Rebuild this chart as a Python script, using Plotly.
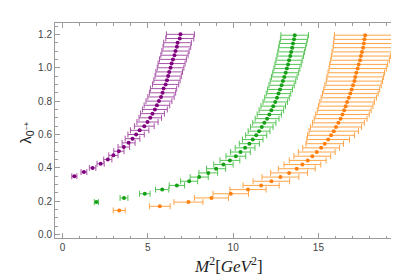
import plotly.graph_objects as go

# ---- data ----
purple_lam = [0.35, 0.375, 0.4, 0.425, 0.45, 0.475, 0.5, 0.525, 0.55, 0.575, 0.6, 0.625,
              0.65, 0.675, 0.7, 0.725, 0.75, 0.775, 0.8, 0.825, 0.85, 0.875, 0.9, 0.925,
              0.95, 0.975, 1.0, 1.025, 1.05, 1.075, 1.1, 1.125, 1.15, 1.175, 1.2]
purple_m2 = [0.69, 1.25, 1.76, 2.23, 2.65, 2.98, 3.30, 3.59, 3.87, 4.10, 4.31, 4.52,
             4.79, 4.98, 5.14, 5.27, 5.41, 5.53, 5.65, 5.77, 5.86, 5.92, 6.04, 6.12,
             6.19, 6.25, 6.33, 6.39, 6.47, 6.56, 6.62, 6.70, 6.74, 6.87, 6.91]
purple_err = [0.15, 0.17, 0.19, 0.21, 0.24, 0.27, 0.30, 0.34, 0.38, 0.43, 0.48, 0.54,
              0.58, 0.62, 0.66, 0.70, 0.73, 0.75, 0.76, 0.77, 0.77, 0.77, 0.77, 0.77,
              0.77, 0.78, 0.78, 0.79, 0.79, 0.80, 0.80, 0.81, 0.81, 0.82, 0.82]

green_lam = [0.195, 0.22, 0.245, 0.27, 0.295, 0.32, 0.345, 0.37, 0.395, 0.42, 0.445,
             0.47, 0.495, 0.52, 0.545, 0.57, 0.595, 0.62, 0.645, 0.67, 0.695, 0.72,
             0.745, 0.77, 0.795, 0.82, 0.845, 0.87, 0.895, 0.92, 0.945, 0.97, 0.995,
             1.02, 1.045, 1.07, 1.095, 1.12, 1.145, 1.17, 1.195]
green_m2 = [1.98, 3.60, 4.82, 5.84, 6.70, 7.42, 8.01, 8.54, 9.00, 9.43, 9.81,
            10.16, 10.43, 10.70, 10.95, 11.15, 11.35, 11.52, 11.68, 11.83, 11.99, 12.12,
            12.24, 12.35, 12.47, 12.57, 12.66, 12.75, 12.84, 12.92, 13.00, 13.08, 13.15,
            13.22, 13.28, 13.35, 13.40, 13.46, 13.51, 13.57, 13.61]
green_err = [0.12, 0.23, 0.31, 0.39, 0.45, 0.50, 0.53, 0.55, 0.56, 0.57, 0.58,
             0.58, 0.58, 0.58, 0.59, 0.60, 0.62, 0.64, 0.66, 0.68, 0.70, 0.71,
             0.72, 0.72, 0.72, 0.72, 0.72, 0.73, 0.74, 0.75, 0.75, 0.76, 0.76,
             0.77, 0.77, 0.78, 0.78, 0.79, 0.80, 0.80, 0.81]

orange_lam = [0.145, 0.17, 0.195, 0.22, 0.245, 0.27, 0.295, 0.32, 0.345, 0.37, 0.395,
              0.42, 0.445, 0.47, 0.495, 0.52, 0.545, 0.57, 0.595, 0.62, 0.645, 0.67,
              0.695, 0.72, 0.745, 0.77, 0.795, 0.82, 0.845, 0.87, 0.895, 0.92, 0.945,
              0.97, 0.995, 1.02, 1.045, 1.07, 1.095, 1.12, 1.145, 1.17, 1.195]
orange_m2 = [3.32, 5.70, 7.38, 8.73, 9.86, 10.87, 11.64, 12.24, 12.77, 13.28, 13.73,
             14.06, 14.37, 14.64, 14.90, 15.16, 15.37, 15.57, 15.74, 15.90, 16.03, 16.17,
             16.30, 16.41, 16.51, 16.60, 16.68, 16.78, 16.87, 16.95, 17.03, 17.11, 17.16,
             17.22, 17.30, 17.36, 17.44, 17.49, 17.55, 17.62, 17.66, 17.70, 17.74]
orange_err = [0.35, 0.61, 0.85, 1.00, 1.04, 1.06, 1.06, 1.07, 1.08, 1.08, 1.08,
              1.08, 1.08, 1.08, 1.08, 1.08, 1.10, 1.25, 1.38, 1.45, 1.50, 1.52,
              1.55, 1.57, 1.58, 1.60, 1.60, 1.62, 1.63, 1.64, 1.65, 1.65, 1.66,
              1.66, 1.68, 1.70, 1.72, 1.73, 1.75, 1.76, 1.78, 1.79, 1.80]

series = [
    (purple_m2, purple_lam, purple_err, "#800080", "#a855a8"),
    (green_m2, green_lam, green_err, "#16a016", "#55c455"),
    (orange_m2, orange_lam, orange_err, "#ff7f0e", "#ffa448"),
]

fig = go.Figure()
for xs, ys, es, pc, bc in series:
    fig.add_trace(go.Scatter(
        x=xs, y=ys, mode="markers",
        marker=dict(color=pc, size=4, symbol="circle"),
        error_x=dict(type="data", array=es, symmetric=True,
                     color=bc, thickness=1, width=3),
        showlegend=False,
    ))

axis_common = dict(
    showline=True, linecolor="#9a9a9a", linewidth=1, mirror="allticks",
    ticks="inside", ticklen=5, tickcolor="#9a9a9a", tickwidth=1,
    showgrid=False, zeroline=False,
    tickfont=dict(family="Liberation Sans, Arial, sans-serif", size=10, color="#444444"),
)

fig.update_xaxes(range=[-0.445, 19.9], dtick=5, tick0=0,
                 minor=dict(dtick=1, ticks="inside", ticklen=2.5, tickcolor="#9a9a9a"),
                 **axis_common)
fig.update_yaxes(range=[-0.02, 1.268], dtick=0.2, tick0=0, tickformat=".1f",
                 minor=dict(dtick=0.05, ticks="inside", ticklen=2.5, tickcolor="#9a9a9a"),
                 **axis_common)

fig.add_annotation(
    text="<i>M</i><sup>2</sup>[<i>GeV</i><sup>2</sup>]",
    xref="paper", yref="paper", x=0.5, y=-0.125, xanchor="center", yanchor="middle",
    showarrow=False, font=dict(family="Liberation Serif, Times New Roman, serif", size=17, color="#222222"),
)
fig.add_annotation(
    text="λ<sub>0<sup>−+</sup></sub>",
    xref="paper", yref="paper", x=-0.083, y=0.49, xanchor="center", yanchor="middle",
    textangle=-90, showarrow=False,
    font=dict(family="Liberation Sans, Arial, sans-serif", size=15, color="#222222"),
)

fig.update_layout(
    width=399, height=278,
    margin=dict(l=47, r=5, t=15, b=48),
    paper_bgcolor="white", plot_bgcolor="white",
)

fig.write_html("out.html")
